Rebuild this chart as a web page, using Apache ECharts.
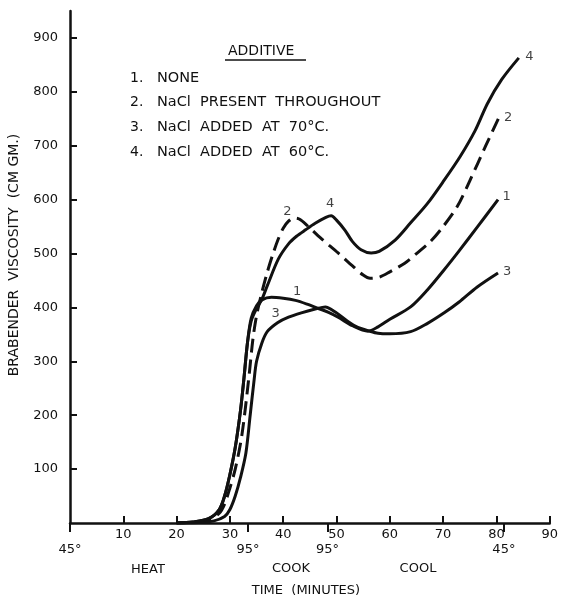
<!DOCTYPE html>
<html>
<head>
<meta charset="utf-8">
<script src="https://cdn.jsdelivr.net/npm/echarts@6/dist/echarts.min.js"></script>
<style>html,body{margin:0;padding:0;background:#fff}#c{width:561px;height:599px}</style>
</head>
<body>
<div id="c"></div>
<script>
// ---- data (time in minutes, Brabender viscosity in cm·gm) ----
const curve1 = [[20,0],[23,2],[26,8],[28,25],[29,50],[30,90],[31,140],[32,210],[32.6,265],[33.3,335],[34,380],[35,403],[36,414],[37.8,419],[40,417],[42.3,413],[44.5,406],[46.6,398],[48.5,391],[50.3,382],[53,366],[55.9,356],[57.8,364],[60,378],[63.9,401],[67,432],[70.2,470],[73,505],[76.4,549],[80.3,600]];
const curve2 = [[20,0],[23,1],[26,5],[28,18],[29,35],[30,65],[31,100],[32.2,160],[33.5,265],[34.3,340],[35,385],[36,428],[37,465],[38,497],[39,525],[40,547],[41,560],[42,566],[43,564],[44.5,552],[47,529],[50.3,501],[53,477],[55,460],[56.3,454],[58,456],[60,466],[62.8,482],[65,500],[67.6,522],[70,550],[72.7,588],[75,635],[78,700],[80.5,753]];
const curve3 = [[20,0],[24,1],[27,4],[29,12],[30,25],[31,50],[32,85],[33,130],[33.8,200],[34.5,262],[35,300],[36,334],[37,355],[39,372],[41,382],[43.4,390],[46,397],[47.9,401],[49.7,392],[52,375],[54,363],[55.9,357],[57.8,352],[60,351],[63.9,355],[67,370],[70.2,390],[73,410],[76.4,438],[80.3,464]];
const curve4 = [[20,0],[23,2],[26,8],[28,25],[29,50],[30,90],[31,140],[32,210],[32.6,265],[33.3,335],[34,375],[35,398],[36,415],[37,440],[39.1,490],[41,518],[42.5,532],[44.2,544],[46,556],[48,567],[49,570],[50,562],[51.6,543],[53,522],[54.6,507],[56.5,501],[58,504],[61,525],[63.9,557],[67,592],[70.2,636],[73.2,680],[76,728],[78.3,778],[81,823],[84.2,863]];
const curveLabels = [[86.2,865,'4'],[82.2,753,'2'],[81.9,605,'1'],[82,466,'3'],[40.8,578,'2'],[48.8,592,'4'],[42.6,430,'1'],[38.6,389,'3']];
const xTicks = [10,20,30,40,50,60,70,80,90];
const yTicks = [100,200,300,400,500,600,700,800,900];
const tempTicks = [0,33.4,48.3,81.4];
const tempLabels = ['45°','95°','95°','45°'];
const legendTitle = 'ADDITIVE';
const legendNums = ['1.','2.','3.','4.'];
const legendItems = ['NONE','NaCl  PRESENT  THROUGHOUT','NaCl  ADDED  AT  70°C.','NaCl  ADDED  AT  60°C.'];
const phaseLabels = ['HEAT','COOK','COOL'];
const xTitle = 'TIME  (MINUTES)';
const yTitle = 'BRABENDER  VISCOSITY  (CM GM.)';

const FONT = 'DejaVu Sans';
const INK = '#111';
const chart = echarts.init(document.getElementById('c'), null, {renderer:'canvas'});

function lineSeries(data, dashed){
  return {
    type:'line', data:data, xAxisIndex:0, yAxisIndex:0,
    smooth:0.3, symbol:'none', silent:true,
    lineStyle:{color:INK, width:3, type: dashed ? [14,7] : 'solid', cap:'butt', join:'round'}
  };
}

const legendY = [78,102,127,152];
const txt = (x,y,t,size,align)=>({type:'text', style:{x:x, y:y, text:t, font:size+'px "'+FONT+'"', fill:INK, align:align||'left', verticalAlign:'middle'}});
const graphics = [
  txt(228,51,legendTitle,14),
  {type:'line', shape:{x1:225,y1:60,x2:306,y2:60}, style:{stroke:INK, lineWidth:1.3}},
  {type:'text', x:14, y:255, rotation:Math.PI/2,
   style:{x:0, y:0, text:yTitle, font:'14px "'+FONT+'"', fill:INK, align:'center', verticalAlign:'middle'}},
  txt(148,570,phaseLabels[0],13,'center'),
  txt(291,569,phaseLabels[1],13,'center'),
  txt(418,569,phaseLabels[2],13,'center'),
  txt(306,591,xTitle,13,'center')
];
legendNums.forEach((n,i)=>{
  graphics.push(txt(130,legendY[i],n,14));
  graphics.push(txt(157,legendY[i],legendItems[i],14.5));
});

const option = {
  backgroundColor:'#fff',
  animation:false,
  grid:{left:70, top:11, width:483, height:512, containLabel:false},
  xAxis:[
    {type:'value', min:0, max:90, position:'bottom',
     axisLine:{show:true, onZero:false, lineStyle:{color:INK, width:2.5}},
     axisTick:{show:true, inside:true, length:7, customValues:xTicks, lineStyle:{color:INK, width:2}},
     axisLabel:{show:true, customValues:xTicks, margin:5, fontFamily:FONT, fontSize:13, color:INK},
     splitLine:{show:false}},
    {type:'value', min:0, max:90, position:'bottom', offset:0,
     axisLine:{show:false},
     axisTick:{show:true, inside:false, length:9, customValues:tempTicks, lineStyle:{color:INK, width:2}},
     axisLabel:{show:true, customValues:tempTicks, margin:20, fontFamily:FONT, fontSize:13, color:INK,
       formatter:function(v){const i=tempTicks.indexOf(v); return i>=0?tempLabels[i]:'';}},
     splitLine:{show:false}}
  ],
  yAxis:{type:'value', min:0, max:950,
     axisLine:{show:true, onZero:false, lineStyle:{color:INK, width:2.5}},
     axisTick:{show:true, inside:true, length:7, customValues:yTicks, lineStyle:{color:INK, width:2}},
     axisLabel:{show:true, customValues:yTicks, margin:12, fontFamily:FONT, fontSize:13, color:INK},
     splitLine:{show:false}},
  series:[
    lineSeries(curve1,false),
    lineSeries(curve2,true),
    lineSeries(curve3,false),
    lineSeries(curve4,false),
    {type:'scatter', symbolSize:0, silent:true,
     data:curveLabels.map(d=>({value:[d[0],d[1]], name:d[2]})),
     label:{show:true, position:'inside', formatter:'{b}', fontFamily:FONT, fontSize:13, color:INK}}
  ],
  graphic:graphics
};
chart.setOption(option);
</script>
</body>
</html>
